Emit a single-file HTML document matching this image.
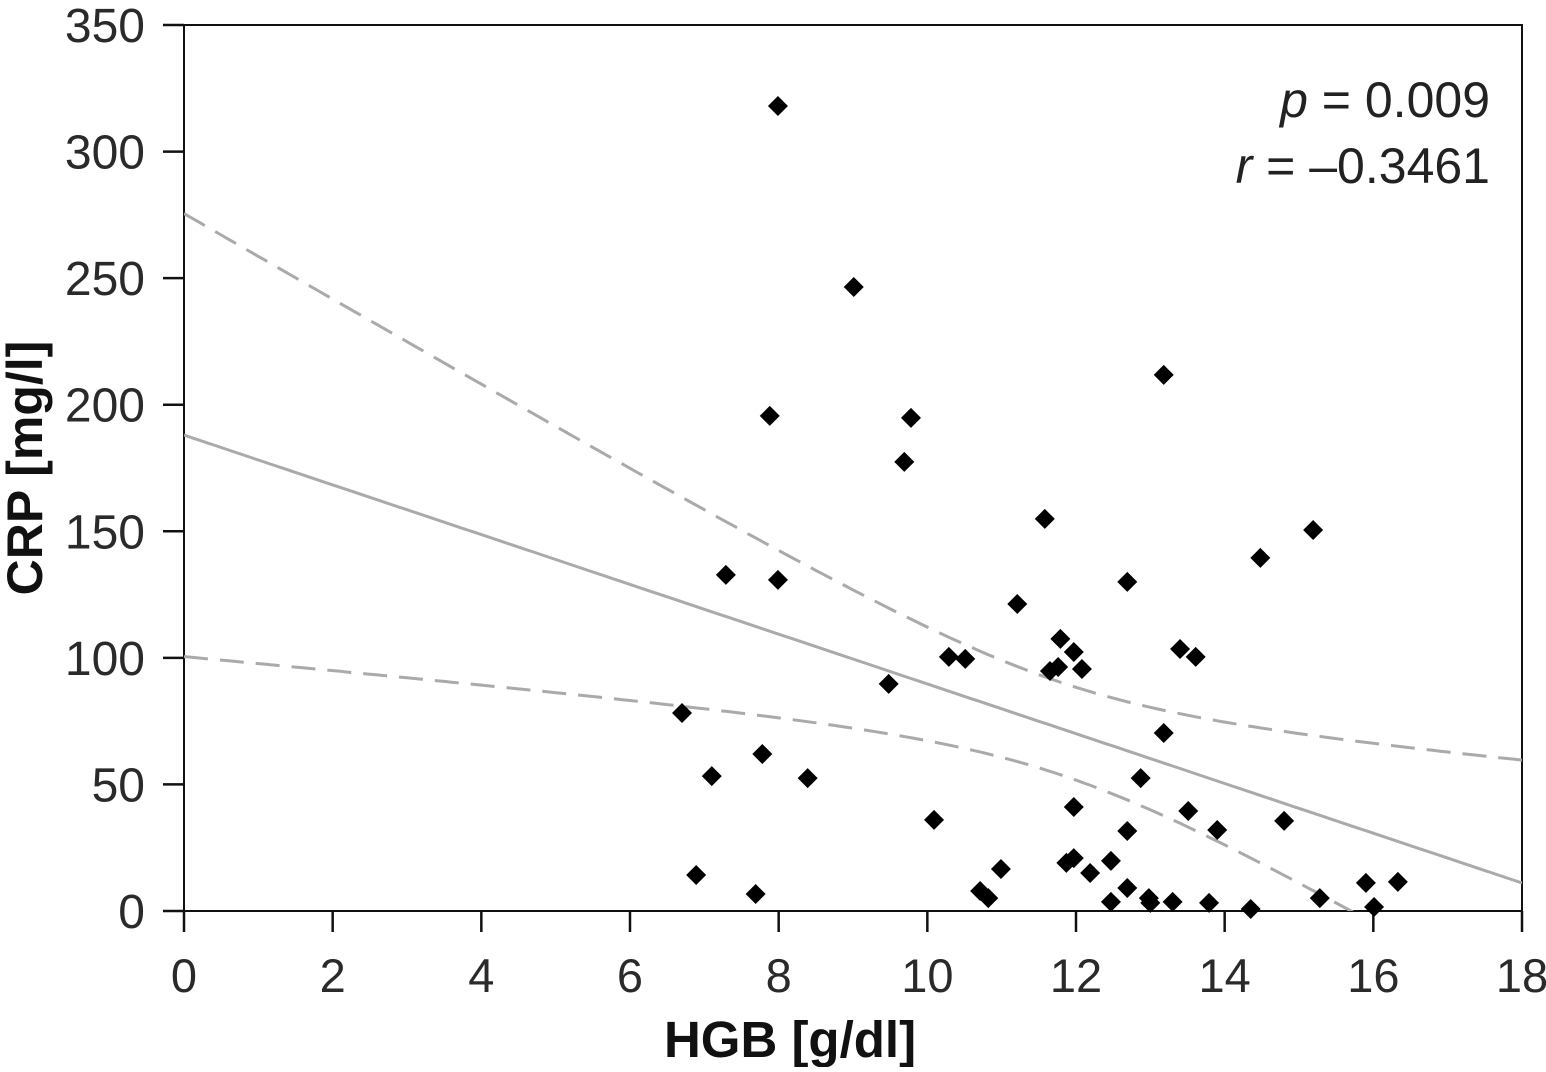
<!DOCTYPE html>
<html><head><meta charset="utf-8"><style>
html,body{margin:0;padding:0;background:#fff;}
svg text{font-family:"Liberation Sans","DejaVu Sans",sans-serif;}
</style></head><body>
<svg id="chart" width="1546" height="1067" viewBox="0 0 1546 1067" xmlns="http://www.w3.org/2000/svg"></svg>
<script>
const xs=[7.99,9.01,7.88,9.78,9.69,13.18,11.58,15.19,14.48,7.29,7.99,12.69,11.21,11.79,11.97,12.08,11.65,11.76,10.29,10.51,13.4,13.61,9.48,6.7,13.18,7.78,7.1,8.39,12.87,10.09,11.97,13.51,13.9,14.8,12.69,6.89,7.69,10.99,10.71,10.82,11.87,11.97,12.19,12.47,12.69,12.47,12.98,13.0,13.3,13.79,14.35,15.28,15.9,16.33,16.01];
const ys=[318,246.5,195.6,194.8,177.4,211.8,154.9,150.5,139.5,132.8,130.8,130,121.3,107.5,102.3,95.6,94.8,96.4,100.4,99.6,103.5,100.4,89.7,78.2,70.3,62,53.3,52.5,52.5,36,41.1,39.5,32,35.6,31.6,14.2,6.7,16.6,7.9,5.1,19,20.9,15,19.8,9.1,3.6,5.1,3.2,3.6,3.2,0.8,5.1,11.1,11.5,1.6];
const xTicks=[0,2,4,6,8,10,12,14,16,18];
const yTicks=[0,50,100,150,200,250,300,350];
const fit=[188,-9.83];          // intercept, slope
const band=[334,52.6,11.8];     // a, b, center for CI half-width
const svg=document.getElementById('chart');
const NS='http://www.w3.org/2000/svg';
const X0=184,X1=1522,Y0=911,Y1=25;
const sx=v=>X0+(v-0)/(18-0)*(X1-X0);
const sy=v=>Y0-(v-0)/(350-0)*(Y0-Y1);
function mk(t,a){const e=document.createElementNS(NS,t);for(const k in a)e.setAttribute(k,a[k]);svg.appendChild(e);return e;}
const defs=mk('defs',{});const cp=document.createElementNS(NS,'clipPath');cp.setAttribute('id','pa');
const cr=document.createElementNS(NS,'rect');cr.setAttribute('x',X0);cr.setAttribute('y',Y1);cr.setAttribute('width',X1-X0);cr.setAttribute('height',Y0-Y1);cp.appendChild(cr);defs.appendChild(cp);
let f=mk('rect',{x:X0,y:Y1,width:X1-X0,height:Y0-Y1,fill:'none',stroke:'#111','stroke-width':2});

xTicks.forEach(t=>{
 let l=mk('line',{x1:sx(t),x2:sx(t),y1:Y0,y2:Y0+21,stroke:'#111','stroke-width':2.5});
 
 let tx=mk('text',{x:sx(t),y:992,'text-anchor':'middle','font-size':47,fill:'#2a2a2a'});tx.textContent=t;
 
});
yTicks.forEach(t=>{
 let l=mk('line',{x1:X0-21,x2:X0,y1:sy(t),y2:sy(t),stroke:'#111','stroke-width':2.5});
 
 let tx=mk('text',{x:145,y:sy(t)+17,'text-anchor':'end','font-size':48,fill:'#2a2a2a'});tx.textContent=t;
 
});
const g=mk('g',{'clip-path':'url(#pa)'});
function pathOf(fn){let d='';for(let i=0;i<=180;i++){const x=i/10;d+=(i?'L':'M')+sx(x).toFixed(1)+','+sy(fn(x)).toFixed(1);}return d;}
const pred=x=>fit[0]+fit[1]*x;
const hw=x=>Math.sqrt(band[0]+band[1]*(x-band[2])**2);
let p1=document.createElementNS(NS,'path');p1.setAttribute('d',pathOf(pred));p1.setAttribute('stroke','#aaa');p1.setAttribute('stroke-width',3);p1.setAttribute('fill','none');g.appendChild(p1);

let p2=document.createElementNS(NS,'path');p2.setAttribute('d',pathOf(x=>pred(x)+hw(x)));p2.setAttribute('stroke','#aaa');p2.setAttribute('stroke-width',3);p2.setAttribute('stroke-dasharray','24,12');p2.setAttribute('fill','none');g.appendChild(p2);

let p3=document.createElementNS(NS,'path');p3.setAttribute('d',pathOf(x=>pred(x)-hw(x)));p3.setAttribute('stroke','#aaa');p3.setAttribute('stroke-width',3);p3.setAttribute('stroke-dasharray','24,12');p3.setAttribute('fill','none');g.appendChild(p3);

xs.forEach((x,i)=>{
 const cx=sx(x),cy=sy(ys[i]),r=10;
 let p=mk('polygon',{points:`${cx},${cy-r} ${cx+r},${cy} ${cx},${cy+r} ${cx-r},${cy}`,fill:'#000'});
 
});
let xt=mk('text',{x:790,y:1057,'text-anchor':'middle','font-size':51,'font-weight':'bold',fill:'#111'});xt.textContent='HGB [g/dl]';

let yt=mk('text',{x:0,y:0,'text-anchor':'middle','font-size':50,'font-weight':'bold',fill:'#111',transform:`translate(42,468) rotate(-90)`});yt.textContent='CRP [mg/l]';

let a1=mk('text',{x:1490,y:117,'text-anchor':'end','font-size':50,fill:'#222'});a1.innerHTML='<tspan font-style="italic">p</tspan> = 0.009';

let a2=mk('text',{x:1490,y:183,'text-anchor':'end','font-size':50,fill:'#222'});a2.innerHTML='<tspan font-style="italic">r</tspan> = \u20130.3461';

</script>
</body></html>
